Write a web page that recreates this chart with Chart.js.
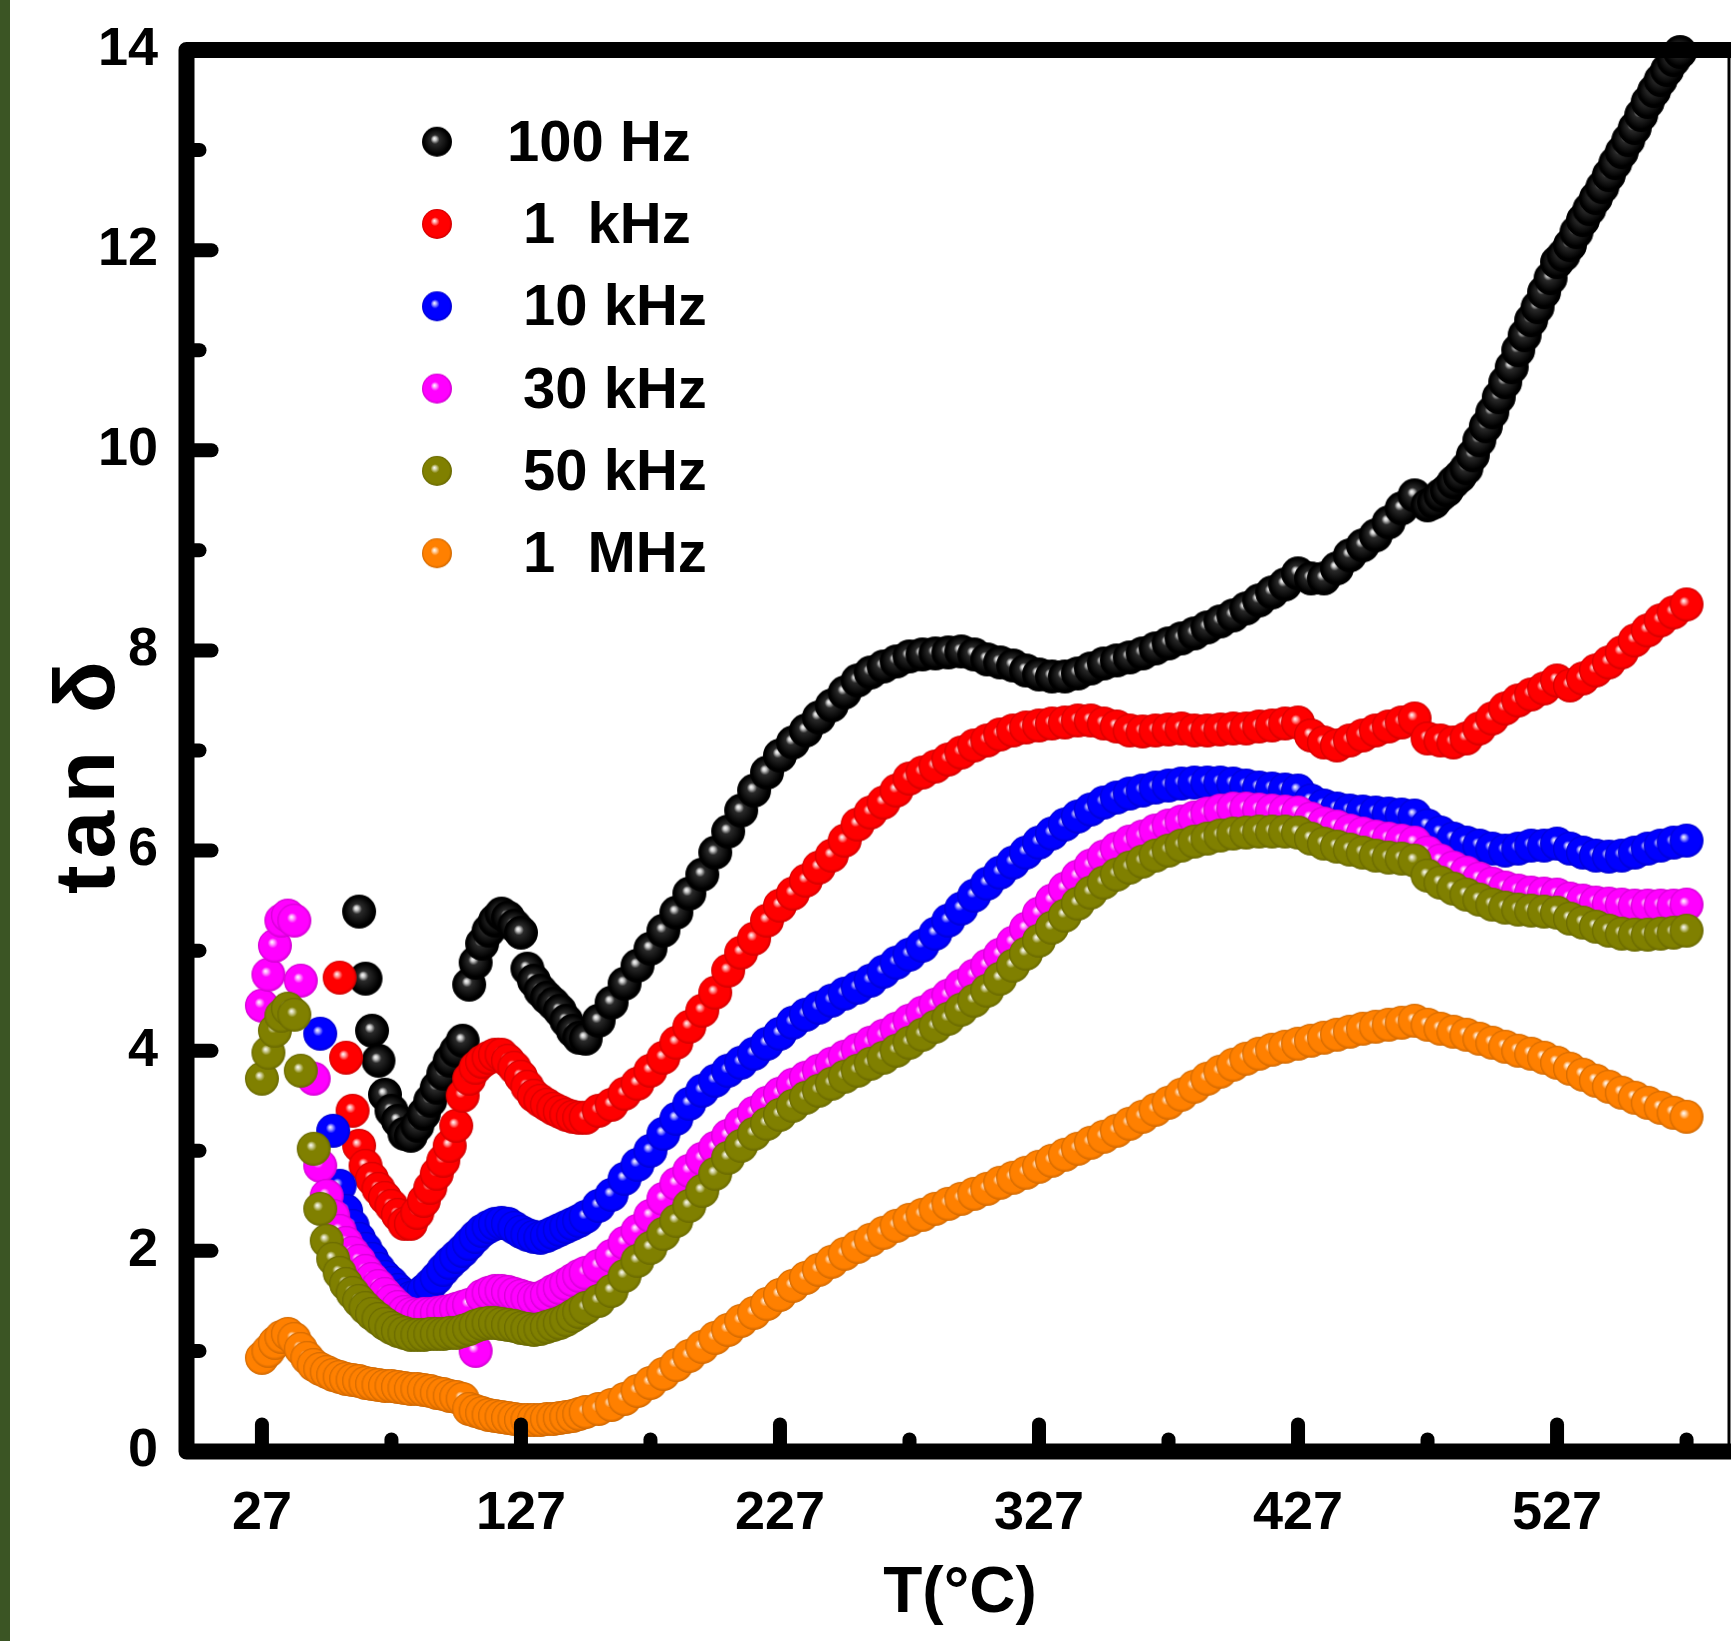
<!DOCTYPE html>
<html>
<head>
<meta charset="utf-8">
<script src="https://cdn.jsdelivr.net/npm/chart.js@4.4.1/dist/chart.umd.min.js"></script>
<style>
html,body{margin:0;padding:0;background:#fff;}
#wrap{position:relative;width:1731px;height:1641px;overflow:hidden;background:#fff;}
#strip{position:absolute;left:0;top:0;width:10px;height:1641px;background:#3b5524;}
canvas{position:absolute;left:0;top:0;}
</style>
</head>
<body>
<div id="wrap"><canvas id="c" width="1731" height="1641"></canvas><div id="strip"></div></div>
<script>
// Temperature grid (°C) shared by the 1 kHz ... 1 MHz series
const TEMPS = [
  27, 29.5, 32, 34.5, 37, 39.5, 42, 44.5, 47, 49.5,
  52, 54.5, 57, 59.5, 62, 64.5, 67, 69.5, 72, 74.5,
  77, 79.5, 82, 84.5, 87, 89.5, 92, 94.5, 97, 99.5,
  102, 104.5, 107, 109.5, 112, 114.5, 117, 119.5, 122, 124.5,
  127, 129.5, 132, 134.5, 137, 139.5, 142, 144.5, 147, 149.5,
  152, 157, 162, 167, 172, 177, 182, 187, 192, 197,
  202, 207, 212, 217, 222, 227, 232, 237, 242, 247,
  252, 257, 262, 267, 272, 277, 282, 287, 292, 297,
  302, 307, 312, 317, 322, 327, 332, 337, 342, 347,
  352, 357, 362, 367, 372, 377, 382, 387, 392, 397,
  402, 407, 412, 417, 422, 427, 432, 437, 442, 447,
  452, 457, 462, 467, 472, 477, 482, 487, 492, 497,
  502, 507, 512, 517, 522, 527, 532, 537, 542, 547,
  552, 557, 562, 567, 572, 577
];

// Temperatures of the 100 Hz series (denser where it climbs steeply)
const TEMPS_100HZ = [
  64.5, 67, 69.5, 72, 74.5, 77, 79.5, 82, 84.5, 87,
  89.5, 92, 94.5, 97, 99.5, 102, 104.5, 107, 109.5, 112,
  114.5, 117, 119.5, 122, 124.5, 127, 129.5, 132, 134.5, 137,
  139.5, 142, 144.5, 147, 149.5,
  152, 157, 162, 167, 172, 177, 182, 187, 192, 197,
  202, 207, 212, 217, 222, 227, 232, 237, 242, 247,
  252, 257, 262, 267, 272, 277, 282, 287, 292, 297,
  302, 307, 312, 317, 322, 327, 332, 337, 342, 347,
  352, 357, 362, 367, 372, 377, 382, 387, 392, 397,
  402, 407, 412, 417, 422, 427, 432, 437, 442, 447,
  452, 457, 462, 467, 472,
  477, 479.5, 482, 484.5, 487, 489.5, 492, 494.5, 497, 499.5,
  502, 504.5, 507, 509.5, 512, 514.5, 517, 519.5, 522, 524.5,
  527, 529.5, 532, 534.5, 537, 539.5, 542, 544.5, 547, 549.5,
  552, 554.5, 557, 559.5, 562, 564.5, 567, 569.5, 572, 574.5
];

const TAN_100HZ = [
  5.39, 4.72, 4.2, 3.9, 3.56, 3.4, 3.3, 3.17, 3.15, 3.25,
  3.37, 3.5, 3.63, 3.77, 3.9, 4.0, 4.1, 4.66, 4.88, 5.07,
  5.2, 5.3, 5.37, 5.33, 5.25, 5.18, 4.82, 4.7, 4.6, 4.53,
  4.47, 4.4, 4.3, 4.2, 4.13,
  4.12, 4.3, 4.48, 4.67, 4.85, 5.02, 5.2, 5.38, 5.57, 5.76,
  5.98, 6.19, 6.4, 6.6, 6.78, 6.95, 7.08, 7.2, 7.33, 7.45,
  7.58, 7.7, 7.78, 7.84, 7.89, 7.94, 7.96, 7.97, 7.98, 7.99,
  7.96, 7.91, 7.88, 7.85, 7.8, 7.76, 7.74, 7.74, 7.77, 7.82,
  7.87, 7.9, 7.93, 7.97, 8.02, 8.07, 8.12, 8.17, 8.23, 8.29,
  8.35, 8.42, 8.5, 8.58, 8.66, 8.77, 8.72, 8.72, 8.82, 8.95,
  9.05, 9.15, 9.28, 9.42, 9.55,
  9.45, 9.48, 9.55, 9.6, 9.68, 9.74, 9.82, 9.95, 10.1, 10.24,
  10.38, 10.53, 10.68, 10.83, 11.0, 11.15, 11.3, 11.43, 11.58, 11.72,
  11.88, 11.95, 12.05, 12.18, 12.3, 12.41, 12.52, 12.63, 12.75, 12.87,
  12.98, 13.1, 13.22, 13.35, 13.48, 13.59, 13.7, 13.8, 13.9, 13.98
];

const TAN_1KHZ = [
  null, null, null, null, null, null, null, null, null, null,
  null, null, 4.73, 3.93, 3.4, 3.05, 2.85, 2.72, 2.62, 2.53,
  2.45, 2.36, 2.27, 2.27, 2.38, 2.5, 2.63, 2.77, 2.9, 3.05,
  3.25, 3.55, 3.72, 3.83, 3.89, 3.93, 3.96, 3.96, 3.9, 3.83,
  3.74, 3.64, 3.55, 3.5, 3.46, 3.42, 3.39, 3.36, 3.34, 3.33,
  3.33, 3.4, 3.46, 3.57, 3.67, 3.8, 3.93, 4.08, 4.24, 4.4,
  4.58, 4.8, 4.98, 5.12, 5.3, 5.45, 5.57, 5.7, 5.83, 5.95,
  6.1, 6.26, 6.38, 6.48, 6.6, 6.72, 6.78, 6.84, 6.91, 6.98,
  7.05, 7.1, 7.16, 7.2, 7.23, 7.25, 7.27, 7.28, 7.3, 7.3,
  7.27, 7.24, 7.2, 7.19, 7.2, 7.21, 7.22, 7.2, 7.2, 7.21,
  7.22, 7.22, 7.24, 7.25, 7.27, 7.28, 7.15, 7.08, 7.05, 7.1,
  7.15, 7.2, 7.24, 7.28, 7.32, 7.12, 7.1, 7.08, 7.12, 7.22,
  7.32, 7.42, 7.5, 7.56, 7.62, 7.7, 7.65, 7.72, 7.8, 7.88,
  7.98, 8.1, 8.2, 8.3, 8.38, 8.46
];

const TAN_10KHZ = [
  null, null, null, null, null, null, null, null, null, 4.17,
  null, 3.2, 2.65, 2.4, 2.25, 2.12, 2.02, 1.92, 1.82, 1.74,
  1.68, 1.61, 1.56, 1.53, 1.55, 1.6, 1.66, 1.73, 1.81, 1.88,
  1.94, 2.0, 2.07, 2.14, 2.2, 2.24, 2.27, 2.28, 2.27, 2.23,
  2.19, 2.16, 2.14, 2.13, 2.15, 2.18, 2.21, 2.24, 2.27, 2.3,
  2.34, 2.45, 2.56, 2.72, 2.86, 3.0, 3.17, 3.32, 3.47, 3.6,
  3.7, 3.8, 3.88, 3.97, 4.07, 4.17, 4.28, 4.36, 4.43, 4.5,
  4.57, 4.63, 4.7, 4.79, 4.88, 4.96, 5.05, 5.17, 5.3, 5.42,
  5.55, 5.67, 5.78, 5.88, 5.98, 6.08, 6.17, 6.26, 6.34, 6.41,
  6.48, 6.53, 6.57, 6.6, 6.63, 6.65, 6.67, 6.68, 6.68, 6.68,
  6.67, 6.65, 6.63, 6.62, 6.61, 6.6, 6.5, 6.45, 6.42, 6.4,
  6.39, 6.38, 6.37, 6.36, 6.35, 6.25, 6.18, 6.12, 6.08, 6.05,
  6.02, 6.0, 6.02, 6.05, 6.05, 6.07, 6.02, 5.98, 5.95, 5.94,
  5.95, 5.98, 6.02, 6.05, 6.08, 6.1
];

const TAN_30KHZ = [
  4.45, 4.76, 5.05, 5.3, 5.35, 5.3, 4.7, null, 3.72, 2.85,
  2.55, 2.35, 2.2, 2.08, 1.98, 1.9, 1.8, 1.72, 1.65, 1.57,
  1.5, 1.44, 1.39, 1.37, 1.36, 1.37, 1.37, 1.38, 1.39, 1.4,
  1.42, 1.44, 1.46, 1.0, 1.55, 1.58, 1.6, 1.6, 1.59, 1.57,
  1.55, 1.53, 1.52, 1.53, 1.56, 1.6, 1.63, 1.67, 1.71, 1.75,
  1.78, 1.85, 1.95, 2.08, 2.2, 2.35, 2.52, 2.67, 2.8, 2.92,
  3.03, 3.15, 3.27, 3.38, 3.48, 3.57, 3.66, 3.73, 3.8, 3.87,
  3.94, 4.01, 4.08, 4.15, 4.22, 4.3, 4.38, 4.46, 4.55, 4.65,
  4.75, 4.85, 4.96, 5.08, 5.22, 5.37, 5.5, 5.62, 5.74, 5.85,
  5.94, 6.02, 6.09, 6.14, 6.2, 6.25, 6.29, 6.33, 6.37, 6.4,
  6.42, 6.42, 6.41, 6.4, 6.39, 6.38, 6.32, 6.27, 6.24, 6.2,
  6.17, 6.14, 6.12, 6.1, 6.08, 5.98, 5.9, 5.83, 5.78, 5.72,
  5.67, 5.63, 5.6, 5.58, 5.57, 5.56, 5.52, 5.5, 5.48, 5.47,
  5.46, 5.45, 5.45, 5.45, 5.45, 5.46
];

const TAN_50KHZ = [
  3.72, 3.98, 4.2, 4.35, 4.42, 4.36, 3.8, null, 3.02, 2.42,
  2.1, 1.92, 1.78, 1.67, 1.58, 1.5, 1.43, 1.37, 1.32, 1.27,
  1.23, 1.2, 1.18, 1.16, 1.16, 1.16, 1.17, 1.17, 1.17, 1.18,
  1.18, 1.2, 1.22, 1.25, 1.27, 1.28, 1.28, 1.27, 1.26, 1.25,
  1.23, 1.22, 1.21, 1.22, 1.24, 1.26, 1.28, 1.31, 1.35, 1.39,
  1.43, 1.5, 1.6, 1.75, 1.9, 2.03, 2.17, 2.3, 2.45, 2.6,
  2.77, 2.93, 3.05, 3.17, 3.27, 3.36, 3.45, 3.53, 3.6, 3.67,
  3.74, 3.8, 3.87, 3.93, 4.0, 4.08, 4.16, 4.24, 4.32, 4.41,
  4.5, 4.6, 4.72, 4.85, 4.97, 5.1, 5.23, 5.35, 5.47, 5.58,
  5.68, 5.76, 5.83, 5.89, 5.95, 6.0, 6.05, 6.09, 6.12, 6.15,
  6.17, 6.18, 6.19, 6.19, 6.19, 6.18, 6.12, 6.07, 6.04, 6.01,
  5.98, 5.95, 5.93, 5.92, 5.9, 5.75, 5.68, 5.62, 5.56, 5.51,
  5.46, 5.43, 5.41, 5.4, 5.39, 5.38, 5.32, 5.28, 5.24, 5.2,
  5.17, 5.16, 5.16, 5.17, 5.18, 5.2
];

const TAN_1MHZ = [
  0.93, 1.0, 1.08, 1.14, 1.17, 1.12, 1.02, 0.93, 0.86, 0.82,
  0.79, 0.76, 0.74, 0.72, 0.71, 0.7, 0.68, 0.67, 0.66, 0.65,
  0.65, 0.64, 0.63, 0.62, 0.62, 0.61, 0.6, 0.58, 0.57, 0.55,
  0.54, 0.52, 0.42, 0.4, 0.38, 0.36, 0.35, 0.34, 0.33, 0.32,
  0.31, 0.31, 0.31, 0.31, 0.32, 0.32, 0.33, 0.34, 0.35, 0.37,
  0.39, 0.42, 0.46, 0.52, 0.6, 0.68, 0.77, 0.86, 0.95, 1.04,
  1.13, 1.21, 1.3, 1.38, 1.47, 1.56, 1.65, 1.73, 1.81, 1.89,
  1.97, 2.04, 2.11, 2.18, 2.25, 2.31, 2.36, 2.42, 2.47, 2.52,
  2.57, 2.62, 2.68, 2.73, 2.78, 2.84, 2.9, 2.96, 3.02, 3.08,
  3.14, 3.2, 3.27, 3.34, 3.41, 3.48, 3.56, 3.64, 3.72, 3.79,
  3.86, 3.92, 3.97, 4.01, 4.04, 4.07, 4.1, 4.13, 4.16, 4.19,
  4.22, 4.24, 4.26, 4.28, 4.3, 4.26, 4.22, 4.19, 4.16, 4.12,
  4.08, 4.04, 4.0, 3.97, 3.93, 3.88, 3.82, 3.76, 3.7, 3.64,
  3.58, 3.53, 3.48, 3.43, 3.38, 3.34
];

const SERIES_LABELS = ['100 Hz', '1  kHz', '10 kHz', '30 kHz', '50 kHz', '1  MHz'];
const SERIES_COLORS = ['#000000', '#ff0000', '#0000ff', '#ff00ff', '#808000', '#ff8000'];
const SERIES_TEMPS = [TEMPS_100HZ, TEMPS, TEMPS, TEMPS, TEMPS, TEMPS];
const SERIES_VALUES = [TAN_100HZ, TAN_1KHZ, TAN_10KHZ, TAN_30KHZ, TAN_50KHZ, TAN_1MHZ];

const X_TICKS = [27, 127, 227, 327, 427, 527];
const X_MINOR_TICKS = [77, 177, 277, 377, 477, 577];
const Y_TICKS = [0, 2, 4, 6, 8, 10, 12, 14];
const Y_MINOR_TICKS = [1, 3, 5, 7, 9, 11, 13];

const X_TITLE = 'T(°C)';
const Y_TITLE = 'tan δ';

// ---------- font choice ----------
function fontAvailable(name) {
  const g = document.createElement('canvas').getContext('2d');
  const probe = '0123456789 kHzMW';
  g.font = 'bold 40px monospace'; const a = g.measureText(probe).width;
  g.font = 'bold 40px serif'; const b = g.measureText(probe).width;
  g.font = 'bold 40px "' + name + '", monospace'; const c = g.measureText(probe).width;
  g.font = 'bold 40px "' + name + '", serif'; const d = g.measureText(probe).width;
  return a !== c || b !== d;
}
const NARROW = fontAvailable('Liberation Sans Narrow');
const BASE_FAMILY = '"Liberation Sans", Arial, Helvetica, sans-serif';
const TICK_FAMILY = NARROW ? '"Liberation Sans Narrow", ' + BASE_FAMILY : BASE_FAMILY;
const TICK_SIZE = NARROW ? 60 : 54;
const LEGEND_SIZE = NARROW ? 66 : 58;

// ---------- sphere markers ----------
function mix(hex, target, t) {
  const n = parseInt(hex.slice(1), 16);
  const r = (n >> 16) & 255, g = (n >> 8) & 255, b = n & 255;
  const f = v => Math.round(v * (1 - t) + target * t);
  return 'rgb(' + f(r) + ',' + f(g) + ',' + f(b) + ')';
}
function makeSphere(hex, r) {
  const size = 2 * r + 2;
  const cv = document.createElement('canvas');
  cv.width = size; cv.height = size;
  const g = cv.getContext('2d');
  const c = size / 2;
  const isBlack = hex === '#000000';
  const grad = g.createRadialGradient(c - r * 0.18, c - r * 0.22, 0, c, c, r);
  grad.addColorStop(0, '#ffffff');
  grad.addColorStop(0.12, isBlack ? '#c8c8c8' : mix(hex, 255, 0.65));
  grad.addColorStop(0.3, isBlack ? '#2a2a2a' : hex);
  grad.addColorStop(0.85, isBlack ? '#000000' : hex);
  grad.addColorStop(1, isBlack ? '#000000' : mix(hex, 0, 0.2));
  g.fillStyle = grad;
  g.beginPath(); g.arc(c, c, r, 0, Math.PI * 2); g.fill();
  return cv;
}
const SPHERES = SERIES_COLORS.map(col => makeSphere(col, 17));
const LEGEND_SPHERES = SERIES_COLORS.map(col => makeSphere(col, 15));

// ---------- plugins ----------
const framePlugin = {
  id: 'frame',
  afterDraw(chart) {
    const ctx = chart.ctx, a = chart.chartArea;
    const xs = chart.scales.x, ys = chart.scales.y;
    const lx = a.left - 5.5, by = a.bottom + 0.5, ty = a.top;
    ctx.save();
    ctx.strokeStyle = '#000';
    ctx.lineCap = 'round';
    ctx.lineWidth = 14;
    const seg = (x1, y1, x2, y2) => { ctx.beginPath(); ctx.moveTo(x1, y1); ctx.lineTo(x2, y2); ctx.stroke(); };
    Y_TICKS.forEach(v => { const y = ys.getPixelForValue(v); seg(lx + 4, y, lx + 25, y); });
    Y_MINOR_TICKS.forEach(v => { const y = ys.getPixelForValue(v); seg(lx + 4, y, lx + 13, y); });
    X_TICKS.forEach(v => { const x = xs.getPixelForValue(v); seg(x, by - 4, x, by - 27); });
    X_MINOR_TICKS.forEach(v => { const x = xs.getPixelForValue(v); seg(x, by - 4, x, by - 12); });
    // frame
    ctx.lineCap = 'butt';
    ctx.lineJoin = 'round';
    ctx.lineWidth = 16;
    ctx.beginPath();
    ctx.moveTo(chart.width + 10, ty);
    ctx.lineTo(lx, ty);
    ctx.lineTo(lx, by);
    ctx.lineTo(chart.width + 10, by);
    ctx.stroke();
    ctx.lineWidth = 3;
    seg(a.right + 1, ty, a.right + 1, by);
    ctx.restore();
  }
};

const legendPlugin = {
  id: 'customLegend',
  afterDraw(chart) {
    const ctx = chart.ctx;
    const markerX = 437, firstY = 141.7, step = 82.3;
    ctx.save();
    ctx.font = 'bold ' + LEGEND_SIZE + 'px ' + TICK_FAMILY;
    ctx.fillStyle = '#000';
    ctx.textAlign = 'left';
    ctx.textBaseline = 'middle';
    chart.data.datasets.forEach((ds, i) => {
      const y = firstY + i * step;
      const img = LEGEND_SPHERES[i];
      ctx.drawImage(img, markerX - img.width / 2, y - img.height / 2);
      const tx = i === 0 ? 507 : 523;
      ctx.fillText(ds.label, tx, y + 3);
    });
    ctx.restore();
  }
};

const yTitlePlugin = {
  id: 'yTitle',
  afterDraw(chart) {
    const ctx = chart.ctx;
    ctx.save();
    ctx.translate(114, 774);
    ctx.rotate(-Math.PI / 2);
    ctx.font = 'bold 86px ' + BASE_FAMILY;
    try { ctx.letterSpacing = '7px'; } catch (e) {}
    ctx.fillStyle = '#000';
    ctx.textAlign = 'center';
    ctx.textBaseline = 'alphabetic';
    ctx.fillText(Y_TITLE, 0, 0);
    ctx.restore();
  }
};

// ---------- chart ----------
const datasets = SERIES_VALUES.map((vals, i) => ({
  label: SERIES_LABELS[i],
  data: SERIES_TEMPS[i].map((t, k) => ({ x: t, y: vals[k] })).filter(p => p.y !== null),
  showLine: false,
  pointStyle: SPHERES[i],
  pointRadius: 17,
  pointHoverRadius: 17,
  backgroundColor: SERIES_COLORS[i],
  borderColor: SERIES_COLORS[i],
  order: SERIES_VALUES.length - i,
  clip: false
}));

new Chart(document.getElementById('c'), {
  type: 'scatter',
  data: { datasets },
  options: {
    responsive: false,
    animation: false,
    devicePixelRatio: 1,
    events: [],
    layout: { autoPadding: false, padding: { left: 0, right: 3, top: 50, bottom: 0 } },
    plugins: { legend: { display: false }, tooltip: { enabled: false } },
    scales: {
      x: {
        type: 'linear',
        min: 0,
        max: 593,
        grid: { display: false, drawTicks: false },
        border: { display: false },
        afterBuildTicks: scale => { scale.ticks = X_TICKS.map(v => ({ value: v })); },
        afterFit: scale => {
          scale.height = 190;
          scale.paddingLeft = 0; scale.paddingRight = 0;
        },
        ticks: {
          autoSkip: false,
          maxRotation: 0,
          padding: 31,
          color: '#000',
          font: { family: TICK_FAMILY, size: TICK_SIZE, weight: 'bold' }
        },
        title: {
          display: true,
          text: X_TITLE,
          color: '#000',
          font: { family: BASE_FAMILY, size: 64, weight: 'bold' },
          padding: { top: 0, bottom: 8 }
        }
      },
      y: {
        type: 'linear',
        min: 0,
        max: 14,
        grid: { display: false, drawTicks: false },
        border: { display: false },
        afterBuildTicks: scale => { scale.ticks = Y_TICKS.map(v => ({ value: v })); },
        afterFit: scale => {
          scale.width = 192;
          scale.paddingTop = 0; scale.paddingBottom = 0;
        },
        ticks: {
          padding: 34,
          color: '#000',
          font: { family: TICK_FAMILY, size: TICK_SIZE, weight: 'bold' }
        }
      }
    }
  },
  plugins: [framePlugin, legendPlugin, yTitlePlugin]
});
</script>
</body>
</html>
